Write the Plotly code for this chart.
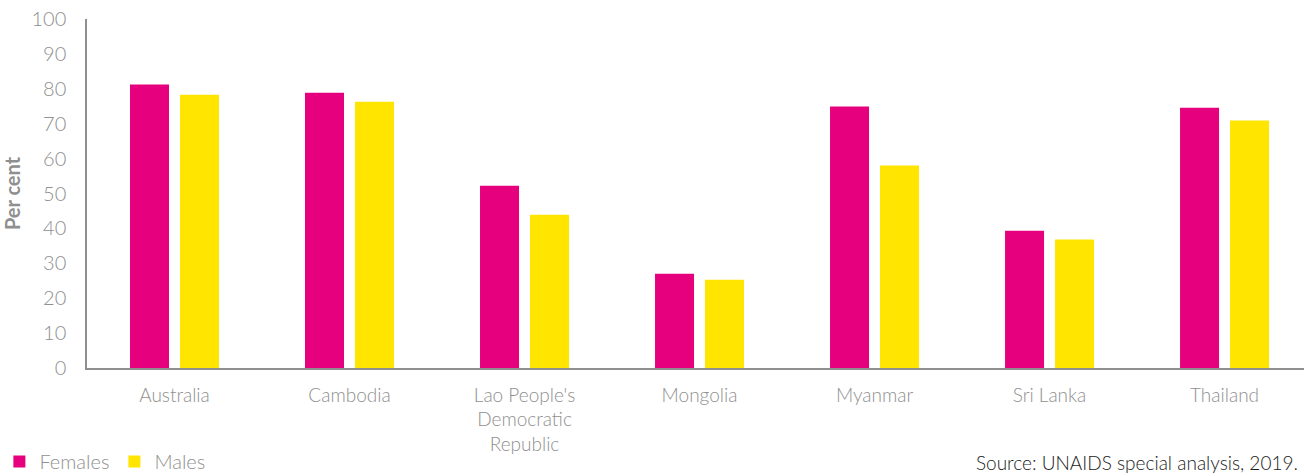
import plotly.graph_objects as go

countries = ["Australia", "Cambodia", "Lao People's<br>Democratic<br>Republic", "Mongolia",
             "Myanmar", "Sri Lanka", "Thailand"]
females = [81.2, 78.9, 52.2, 27.0, 74.9, 39.3, 74.6]
males = [78.3, 76.3, 43.9, 25.3, 58.0, 36.8, 70.9]
y_ticks = [0, 10, 20, 30, 40, 50, 60, 70, 80, 90, 100]

PINK = "#E6007E"
YELLOW = "#FFE500"
GRAY = "#8f8f8f"
FONT = "Lato"

fig = go.Figure()
fig.add_trace(go.Bar(name="Females", x=countries, y=females, marker=dict(color=PINK, line_width=0)))
fig.add_trace(go.Bar(name="Males", x=countries, y=males, marker=dict(color=YELLOW, line_width=0)))

fig.update_layout(
    width=1304, height=476,
    margin=dict(l=87, r=0, t=19, b=108, autoexpand=False),
    paper_bgcolor="white", plot_bgcolor="white",
    barmode="group", bargap=0.4286, bargroupgap=0.22,
    font=dict(family=FONT, color=GRAY, size=18, weight=300),
    showlegend=True,
    legend=dict(orientation="h", x=-0.072, y=-0.268, xanchor="left", yanchor="middle",
                font=dict(size=20, color=GRAY, family=FONT, weight=300), itemwidth=30,
                traceorder="normal", tracegroupgap=0),
    xaxis=dict(range=[-0.5, 6.454], showline=True, linecolor=GRAY, linewidth=1.5,
               showgrid=False, ticks="", ticklabelstandoff=9,
               tickfont=dict(size=19, color=GRAY, family=FONT, weight=300),
               fixedrange=True),
    yaxis=dict(range=[0, 100], tickvals=y_ticks, showline=True, linecolor=GRAY, linewidth=1.5,
               showgrid=False, zeroline=False, ticks="", ticklabelstandoff=15,
               tickfont=dict(size=20, color=GRAY, family=FONT, weight=300),
               title=dict(text="<b>Per cent</b>", font=dict(size=20, color=GRAY, family=FONT), standoff=5)),
    annotations=[dict(text="Source: UNAIDS special analysis, 2019.", xref="paper", yref="paper",
                      x=1.0, y=-0.272, xanchor="right", yanchor="middle", showarrow=False,
                      font=dict(size=19, color="#1a1a1a", family=FONT, weight=300), xshift=-4)],
)

fig.write_html("out.html", config={"displayModeBar": False},
               post_script="document.body.style.margin='0px';document.body.style.overflow='hidden';")
